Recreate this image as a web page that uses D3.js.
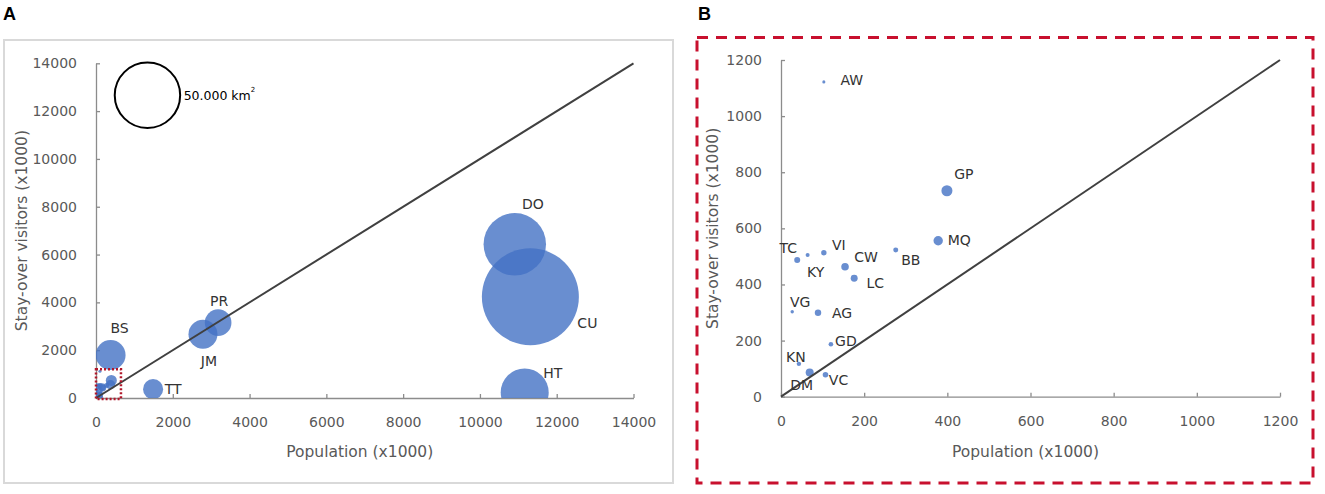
<!DOCTYPE html>
<html><head><meta charset="utf-8">
<script src="https://cdn.jsdelivr.net/npm/d3@7"></script>
<style>body{margin:0;background:#fff}svg{display:block}</style>
</head><body>
<svg id="chart" width="1325" height="494"></svg>
<script>
// ---------- data ----------
const mainCodes      = ["DO", "CU", "HT", "PR", "JM", "BS", "TT"];
const mainPopulation = [10908, 11314, 11166, 3181, 2786, 380, 1487];
const mainVisitors   = [6429, 4237, 230, 3151, 2670, 1799, 370];
const mainArea       = [45500, 109900, 26900, 8300, 9800, 10500, 4700];

const smallCodes      = ["AW", "GP", "MQ", "BB", "VI", "KY", "TC", "CW", "LC", "VG", "AG", "GD", "KN", "DM", "VC"];
const smallPopulation = [103, 399, 378, 276, 103, 64, 39, 154, 176, 27, 89, 120, 43, 69, 107];
const smallVisitors   = [1122, 734, 556, 523, 513, 505, 487, 463, 422, 303, 299, 187, 117, 86, 78];
const smallArea       = [110, 1420, 1030, 290, 340, 190, 420, 670, 570, 135, 480, 250, 225, 750, 365];

const ticksA = [0, 2000, 4000, 6000, 8000, 10000, 12000, 14000];
const ticksB = [0, 200, 400, 600, 800, 1000, 1200];
const zoomBox = {x: 650, y: 1200};           // extent of the dotted zoom region in panel A (data units)
const legendArea = 50000;
const legendPos = {x: 1340, y: 12665};
const legendText = "50.000 km";
const xTitle = "Population (x1000)";
const yTitle = "Stay-over visitors (x1000)";

// ---------- drawing ----------
const svg = d3.select("#chart");
const FONT = "DejaVu Sans";
const AXIS = "#8c8c8c", TXT = "#595959", BUB = "#4472C4", LAB = "#333333";
const rScale = a => 0.1463 * Math.sqrt(a);

const toRows = (codes, xs, ys, as) => codes.map((c, i) => ({code: c, x: xs[i], y: ys[i], a: as[i]}));
const mainRows = toRows(mainCodes, mainPopulation, mainVisitors, mainArea);
const smallRows = toRows(smallCodes, smallPopulation, smallVisitors, smallArea);

const labelOffsetA = {DO: [18, -35], CU: [57, 31], HT: [28, -15], PR: [1, -17], JM: [6, 32], BS: [9, -22], TT: [20, 5]};
const labelOffsetB = {AW: [28, 3], GP: [17, -12], MQ: [21, 4], BB: [15, 15], VI: [15, -3], KY: [8, 22],
  TC: [-9, -7], CW: [21, -5], LC: [21, 10], VG: [8, -5], AG: [24, 5], GD: [15, 2], KN: [-3, -2], DM: [-8, 17], VC: [13, 10]};

// frames
svg.append("rect").attr("x", 4).attr("y", 40).attr("width", 669).attr("height", 443)
  .attr("fill", "none").attr("stroke", "#d9d9d9").attr("stroke-width", 2);
svg.append("rect").attr("x", 697).attr("y", 37.5).attr("width", 616).attr("height", 445.5)
  .attr("fill", "none").attr("stroke", "#c8102e").attr("stroke-width", 3).attr("stroke-dasharray", "11,8");

svg.append("text").attr("x", 3).attr("y", 20).text("A")
  .attr("font-family", "Liberation Sans, Arial").attr("font-weight", "bold").attr("font-size", 18);
svg.append("text").attr("x", 698).attr("y", 20).text("B")
  .attr("font-family", "Liberation Sans, Arial").attr("font-weight", "bold").attr("font-size", 18);

function panel(id, xr, yr, maxV, ticks, rows, offsets, titleX, titleYx, extras) {
  const x = d3.scaleLinear().domain([0, maxV]).range(xr);
  const y = d3.scaleLinear().domain([0, maxV]).range(yr);
  const g = svg.append("g");

  g.append("clipPath").attr("id", "clip" + id).append("rect")
    .attr("x", xr[0]).attr("y", yr[1]).attr("width", xr[1] - xr[0]).attr("height", yr[0] - yr[1]);

  const xa = g.append("g").attr("transform", `translate(0,${yr[0]})`)
    .call(d3.axisBottom(x).tickValues(ticks).tickFormat(d3.format("d")).tickSizeInner(-4).tickSizeOuter(0).tickPadding(19));
  const ya = g.append("g").attr("transform", `translate(${xr[0]},0)`)
    .call(d3.axisLeft(y).tickValues(ticks).tickFormat(d3.format("d")).tickSizeInner(-4).tickSizeOuter(0).tickPadding(19));
  [xa, ya].forEach(a => {
    a.selectAll("path,line").attr("stroke", AXIS).attr("stroke-width", 1.3);
    a.selectAll("text").attr("fill", TXT).attr("font-family", FONT).attr("font-size", 14);
  });

  g.append("text").attr("x", (xr[0] + xr[1]) / 2 - 5).attr("y", 457).attr("text-anchor", "middle")
    .attr("font-family", FONT).attr("font-size", 15.5).attr("fill", TXT).text(xTitle);
  g.append("text").attr("transform", `translate(${titleYx},${(yr[0] + yr[1]) / 2}) rotate(-90)`)
    .attr("text-anchor", "middle").attr("font-family", FONT).attr("font-size", 15.5).attr("fill", TXT).text(yTitle);

  const pg = g.append("g").attr("clip-path", `url(#clip${id})`);
  pg.selectAll("circle").data(rows).join("circle")
    .attr("cx", d => x(d.x)).attr("cy", d => y(d.y)).attr("r", d => rScale(d.a))
    .attr("fill", BUB).attr("fill-opacity", 0.8);

  g.append("line").attr("x1", x(0)).attr("y1", y(0)).attr("x2", x(maxV)).attr("y2", y(maxV))
    .attr("stroke", "#404040").attr("stroke-width", 2);

  g.selectAll("text.lab").data(rows.filter(d => offsets[d.code])).join("text").attr("class", "lab")
    .attr("x", d => x(d.x) + offsets[d.code][0]).attr("y", d => y(d.y) + offsets[d.code][1])
    .attr("text-anchor", "middle").attr("font-family", FONT).attr("font-size", 14).attr("fill", LAB)
    .text(d => d.code);

  if (extras) extras(g, x, y);
}

panel("A", [96, 633.5], [398, 63.3], 14000, ticksA, mainRows.concat(smallRows), labelOffsetA, xTitle, 27, (g, x, y) => {
  g.append("rect").attr("x", x(0)).attr("y", y(zoomBox.y)).attr("width", x(zoomBox.x) - x(0)).attr("height", y(0) - y(zoomBox.y) + 1)
    .attr("fill", "none").attr("stroke", "#b0172a").attr("stroke-width", 2.5).attr("stroke-dasharray", "2,2");
  const r = rScale(legendArea);
  g.append("circle").attr("cx", x(legendPos.x)).attr("cy", y(legendPos.y)).attr("r", r)
    .attr("fill", "none").attr("stroke", "#000").attr("stroke-width", 2);
  const t = g.append("text").attr("x", x(legendPos.x) + r + 3.5).attr("y", y(legendPos.y) + 5)
    .attr("font-family", FONT).attr("font-size", 12.5).attr("fill", "#000").text(legendText);
  t.append("tspan").attr("dy", -8).attr("font-size", 7).text("2");
});

panel("B", [781, 1280], [396.7, 60], 1200, ticksB, smallRows, labelOffsetB, xTitle, 718);
</script>
</body></html>
